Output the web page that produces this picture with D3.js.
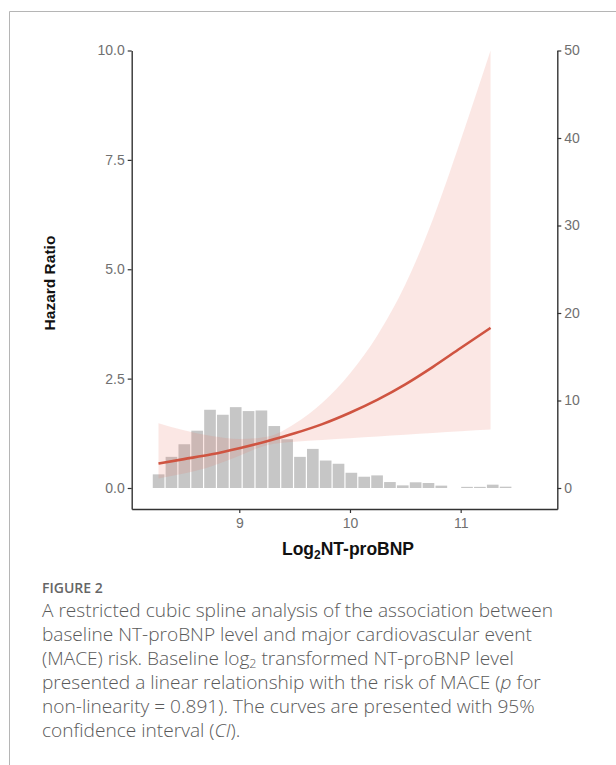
<!DOCTYPE html>
<html><head><meta charset="utf-8">
<script src="https://cdn.jsdelivr.net/npm/d3@7/dist/d3.min.js"></script>
<style>
html,body{margin:0;padding:0;background:#fff;}
svg{display:block;}
</style></head>
<body>
<script>
// ---- data ----
const splineX   = [8.27, 8.5, 8.75, 9.0, 9.25, 9.5, 9.75, 10.0, 10.25, 10.5, 10.75, 11.0, 11.27];
const hazard    = [0.56, 0.66, 0.77, 0.91, 1.07, 1.25, 1.46, 1.72, 2.02, 2.37, 2.77, 3.20, 3.66];
const ciLower   = [0.22, 0.33, 0.50, 0.74, 0.98, 1.06, 1.10, 1.14, 1.18, 1.22, 1.26, 1.30, 1.34];
const ciUpper   = [1.48, 1.32, 1.19, 1.12, 1.17, 1.47, 1.95, 2.62, 3.50, 4.65, 6.15, 7.95, 10.0];
const binStart  = 8.213;
const binWidth  = 0.1161;
const binCounts = [1.56, 3.56, 5.0, 6.55, 8.94, 8.37, 9.24, 8.79, 8.86, 7.08, 5.57, 3.56, 4.47, 3.14,
                   2.77, 1.74, 1.29, 1.44, 0.68, 0.30, 0.65, 0.57, 0.27, 0, 0.13, 0.13, 0.38, 0.15];
const xTicks    = [9, 10, 11];
const yLeftTicks  = [0, 2.5, 5, 7.5, 10];
const yRightTicks = [0, 10, 20, 30, 40, 50];
const xTitle = "NT-proBNP";
const yTitle = "Hazard Ratio";
const figLabel = "FIGURE 2";
const captionLines = [
  "A restricted cubic spline analysis of the association between",
  "baseline NT-proBNP level and major cardiovascular event",
  ["(MACE) risk. Baseline log", "2", " transformed NT-proBNP level"],
  ["presented a linear relationship with the risk of MACE (", "p", " for"],
  "non-linearity = 0.891). The curves are presented with 95%",
  ["confidence interval (", "CI", ")."]
];

// ---- layout ----
const W = 616, H = 765;
const svg = d3.select("body").append("svg").attr("width", W).attr("height", H);

// card border
svg.append("path").attr("d", `M9.5,${H} V11.5 H${W}`).attr("fill","none").attr("stroke","#b5b5b5").attr("stroke-width",1);

const pL = 131.7, pR = 557.3, pT = 50.5, pB = 509;
const x = d3.scaleLinear().domain([8.028, 11.873]).range([pL, pR]);
const yL = d3.scaleLinear().domain([-0.48, 10]).range([pB, pT]);
const yR = d3.scaleLinear().domain([-2.4, 50]).range([pB, pT]);

const g = svg.append("g");

// histogram
const bins = binCounts.map((c, i) => ({x0: binStart + i*binWidth, x1: binStart + (i+1)*binWidth, c}));
g.selectAll("rect.bar").data(bins.filter(d => d.c > 0)).join("rect")
  .attr("class","bar")
  .attr("x", d => x(d.x0) + 0.6)
  .attr("width", d => x(d.x1) - x(d.x0) - 1.2)
  .attr("y", d => yR(d.c))
  .attr("height", d => yR(0) - yR(d.c))
  .attr("fill", "#c6c6c6");

// CI band
const pts = splineX.map((v, i) => ({x: v, hr: hazard[i], lo: ciLower[i], hi: ciUpper[i]}));
g.append("path").datum(pts)
  .attr("d", d3.area().x(d => x(d.x)).y0(d => yL(d.lo)).y1(d => yL(d.hi)).curve(d3.curveMonotoneX))
  .attr("fill", "rgb(232,120,108)").attr("fill-opacity", 0.18);

// HR curve
g.append("path").datum(pts)
  .attr("d", d3.line().x(d => x(d.x)).y(d => yL(d.hr)).curve(d3.curveMonotoneX))
  .attr("fill","none").attr("stroke","#cf5441").attr("stroke-width",2.6);

// axes
const axisColor = "#333", labelColor = "#707070", tickFont = "14px 'Liberation Sans', Arial, sans-serif";
function styleAxis(sel){
  sel.select(".domain").attr("stroke", axisColor).attr("stroke-width", 1.4);
  sel.selectAll(".tick line").attr("stroke", axisColor).attr("stroke-width", 1.2);
  sel.selectAll(".tick text").attr("fill", labelColor).style("font", tickFont);
}
svg.append("g").attr("transform", `translate(0,${pB})`)
  .call(d3.axisBottom(x).tickValues(xTicks).tickFormat(d3.format("d")).tickSize(4).tickSizeOuter(0).tickPadding(5))
  .call(styleAxis);
svg.append("g").attr("transform", `translate(${pL},0)`)
  .call(d3.axisLeft(yL).tickValues(yLeftTicks).tickFormat(d3.format(".1f")).tickSize(4).tickSizeOuter(0).tickPadding(3))
  .call(styleAxis);
svg.append("g").attr("transform", `translate(${pR},0)`)
  .call(d3.axisRight(yR).tickValues(yRightTicks).tickFormat(d3.format("d")).tickSize(4).tickSizeOuter(0).tickPadding(3))
  .call(styleAxis);

// titles
const xt = svg.append("text").attr("x", 348).attr("y", 555).attr("text-anchor","middle")
  .style("font","bold 17.5px 'Liberation Sans', Arial, sans-serif").attr("fill","#111");
xt.append("tspan").text("Log");
xt.append("tspan").text("2").attr("font-size", "12px").attr("dy", 4);
xt.append("tspan").text(xTitle).attr("dy", -4);

svg.append("text").attr("transform", "translate(55,283) rotate(-90)").attr("text-anchor","middle")
  .style("font","bold 15.5px 'Liberation Sans', Arial, sans-serif").attr("fill","#111").text(yTitle);

// caption
svg.append("text").attr("x", 42).attr("y", 593)
  .style("font","600 14px 'Open Sans', sans-serif").attr("fill","#666").text(figLabel);
const capFont = "300 19.1px 'Open Sans', sans-serif";
captionLines.forEach((ln, i) => {
  const t = svg.append("text").attr("x", 42).attr("y", 617 + i*24).style("font", capFont).attr("fill", "#5a5a5a");
  if (typeof ln === "string") { t.text(ln); return; }
  if (i === 2) {
    t.append("tspan").text(ln[0]);
    t.append("tspan").text(ln[1]).attr("font-size","12.5px").attr("dy",2.5);
    t.append("tspan").text(ln[2]).attr("dy",-2.5);
  } else {
    t.append("tspan").text(ln[0]);
    t.append("tspan").text(ln[1]).attr("font-style","italic");
    t.append("tspan").text(ln[2]);
  }
});
</script>
</body></html>
